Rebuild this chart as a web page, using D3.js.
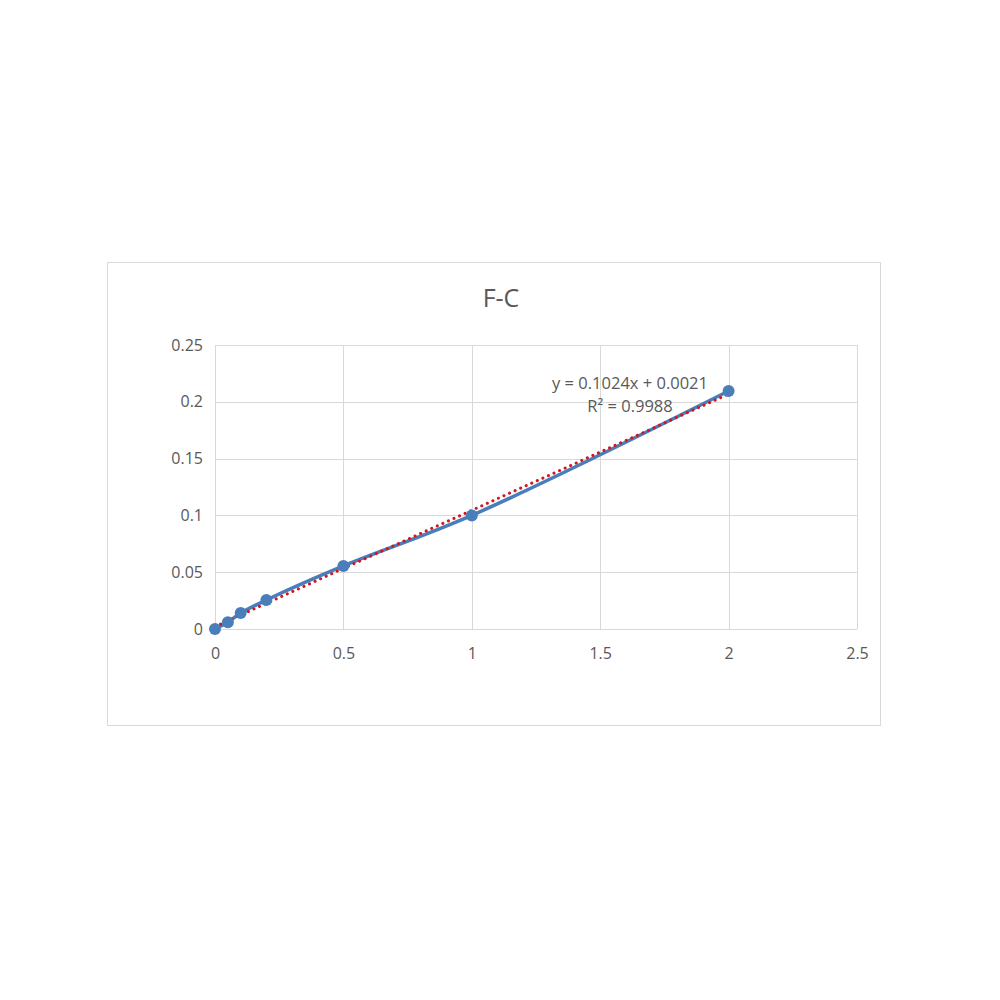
<!DOCTYPE html>
<html>
<head>
<meta charset="utf-8">
<script src="https://cdn.jsdelivr.net/npm/d3@7"></script>
<style>
  body { margin: 0; background: #fff; }
  svg { display: block; font-family: "Open Sans", "Liberation Sans", sans-serif; }
</style>
</head>
<body>
<svg id="chart" width="1000" height="1000"></svg>
<script>
// data
const xValues = [0, 0.05, 0.1, 0.2, 0.5, 1, 2];
const yValues = [0, 0.006, 0.014, 0.0255, 0.0555, 0.1, 0.2095];
const xTicks = [0, 0.5, 1, 1.5, 2, 2.5];
const yTicks = [0, 0.05, 0.1, 0.15, 0.2, 0.25];
const slope = 0.1024;
const intercept = 0.0021;
const equationText = "y = 0.1024x + 0.0021";
const r2Text = "R² = 0.9988";
const title = "F-C";

const points = xValues.map((x, i) => ({ x: x, y: yValues[i] }));

const svg = d3.select('#chart');

// outer chart frame
svg.append('rect')
    .attr('x', 107.5).attr('y', 262.5)
    .attr('width', 773).attr('height', 463)
    .attr('fill', '#fff')
    .attr('stroke', '#d9d9d9')
    .attr('stroke-width', 1);

const x = d3.scaleLinear().domain([0, 2.5]).range([215, 857]);
const y = d3.scaleLinear().domain([0, 0.25]).range([629, 345]);

// gridlines
svg.append('g')
    .selectAll('line')
    .data(yTicks)
    .enter().append('line')
    .attr('x1', x(0)).attr('x2', x(2.5))
    .attr('y1', d => Math.round(y(d)) + 0.5)
    .attr('y2', d => Math.round(y(d)) + 0.5)
    .attr('stroke', '#d9d9d9');

svg.append('g')
    .selectAll('line')
    .data(xTicks)
    .enter().append('line')
    .attr('y1', y(0)).attr('y2', y(0.25))
    .attr('x1', d => Math.round(x(d)) + 0.5)
    .attr('x2', d => Math.round(x(d)) + 0.5)
    .attr('stroke', '#d9d9d9');

// axes (labels only, Excel style)
const xAxis = svg.append('g')
    .attr('transform', `translate(0,${y(0)})`)
    .call(d3.axisBottom(x).tickValues(xTicks).tickSize(0).tickPadding(25).tickFormat(d3.format('')));
const yAxis = svg.append('g')
    .attr('transform', `translate(${x(0)},0)`)
    .call(d3.axisLeft(y).tickValues(yTicks).tickSize(0).tickPadding(12).tickFormat(d3.format('')));

[xAxis, yAxis].forEach(a => {
    a.select('.domain').remove();
    a.selectAll('text')
        .style('font-size', '16px')
        .style('font-family', '"Open Sans", "Liberation Sans", sans-serif')
        .attr('fill', '#595959');
});
xAxis.selectAll('text').attr('dy', '0.3em');

// title
svg.append('text')
    .attr('x', 501)
    .attr('y', 307)
    .attr('text-anchor', 'middle')
    .style('font-size', '25px')
    .attr('fill', '#595959')
    .text(title);

// smoothed series line
const line = d3.line()
    .x(d => x(d.x))
    .y(d => y(d.y))
    .curve(d3.curveCatmullRom.alpha(0.5));

svg.append('path')
    .datum(points)
    .attr('d', line)
    .attr('fill', 'none')
    .attr('stroke', '#4a7ebb')
    .attr('stroke-width', 3.5)
    .attr('stroke-linecap', 'round');

// linear trendline
const trend = d3.line()
    .x(d => x(d))
    .y(d => y(slope * d + intercept));

svg.append('path')
    .datum([0, 2])
    .attr('d', trend)
    .attr('fill', 'none')
    .attr('stroke', '#d2151f')
    .attr('stroke-width', 3)
    .attr('stroke-dasharray', '0.1 6')
    .attr('stroke-linecap', 'round');

// markers
svg.selectAll('.dot')
    .data(points)
    .enter().append('circle')
    .attr('class', 'dot')
    .attr('cx', d => x(d.x))
    .attr('cy', d => y(d.y))
    .attr('r', 6)
    .attr('fill', '#4a7ebb');

// equation label
svg.append('text')
    .attr('x', 630)
    .attr('y', 389)
    .attr('text-anchor', 'middle')
    .style('font-size', '16.5px')
    .attr('fill', '#595959')
    .text(equationText);

svg.append('text')
    .attr('x', 630)
    .attr('y', 412)
    .attr('text-anchor', 'middle')
    .style('font-size', '16.5px')
    .attr('fill', '#595959')
    .text(r2Text);
</script>
</body>
</html>
